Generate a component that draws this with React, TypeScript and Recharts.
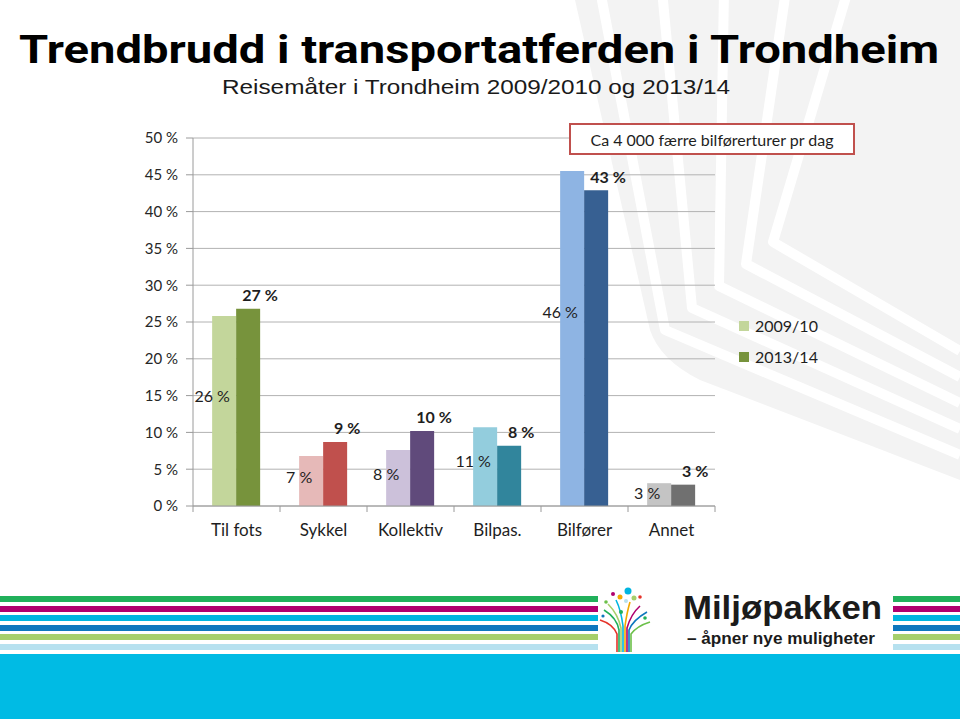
import { BarChart, Bar, XAxis, YAxis, CartesianGrid, Cell, LabelList } from "recharts";

const categories = ["Til fots", "Sykkel", "Kollektiv", "Bilpas.", "Bilfører", "Annet"];
const share2009 = [25.8, 6.8, 7.6, 10.7, 45.5, 3.1];
const share2013 = [26.8, 8.7, 10.2, 8.2, 42.9, 2.9];
const labels2009 = ["26 %", "7 %", "8 %", "11 %", "46 %", "3 %"];
const labels2013 = ["27 %", "9 %", "10 %", "8 %", "43 %", "3 %"];
const yTicks = [0, 5, 10, 15, 20, 25, 30, 35, 40, 45, 50];
const seriesNames = ["2009/10", "2013/14"];

const LIGHT = ["#c3d69b", "#e6b9b8", "#ccc1da", "#93cddd", "#8eb4e3", "#c4c4c4"];
const DARK = ["#77933c", "#c0504d", "#604a7b", "#31859c", "#376092", "#707070"];

const data = categories.map((name, i) => ({
  name,
  a: share2009[i],
  b: share2013[i],
  la: labels2009[i],
  lb: labels2013[i],
}));

const FONT = "Lato, 'Open Sans', sans-serif";
const PLOT_LEFT = 193;
const PLOT_RIGHT = 715;
const BAND = (PLOT_RIGHT - PLOT_LEFT) / categories.length;

const CatTick = (props: any) => {
  const { x, y, payload, index } = props;
  const axisY = y - 18;
  return (
    <g>
      <line x1={x - BAND / 2} x2={x - BAND / 2} y1={axisY} y2={axisY + 6} stroke="#9a9a9a" />
      {index === categories.length - 1 && (
        <line x1={x + BAND / 2} x2={x + BAND / 2} y1={axisY} y2={axisY + 6} stroke="#9a9a9a" />
      )}
      <text x={x} y={y} dy="0.71em" textAnchor="middle" fontSize={17} fill="#1e1e1e" fontFamily={FONT}>
        {payload.value}
      </text>
    </g>
  );
};

const LightLabel = (props: any) => {
  const { x, y, height, value } = props;
  return (
    <text x={x} y={y + height * 0.42} textAnchor="middle" dominantBaseline="central" fontSize={16} fill="#1e1e1e" fontFamily={FONT}>
      {value}
    </text>
  );
};

const DarkLabel = (props: any) => {
  const { x, y, width, value } = props;
  return (
    <text x={x + width} y={y - 14} textAnchor="middle" dominantBaseline="central" fontSize={16} fontWeight="bold" fill="#1e1e1e" fontFamily={FONT}>
      {value}
    </text>
  );
};

const Background = () => {
  const bands = [0, 1, 2, 3, 4];
  return (
    <svg width={960} height={719} style={{ position: "absolute", left: 0, top: 0 }}>
      <path d="M575 0 L650 330 Q660 360 700 380 L960 480 L960 0 Z" fill="#f3f3f3" />
      {bands.map((k) => {
        const topX = 600 + k * 62;
        const ax = 665 + k * 27;
        const ay = 330 - k * 22;
        const by = 455 - k * 26;
        return (
          <polyline
            key={k}
            points={`${topX},-10 ${ax},${ay} 960,${by}`}
            fill="none"
            stroke="#ffffff"
            strokeWidth={10}
            strokeLinejoin="round"
          />
        );
      })}
      {/* bottom stripes */}
      {[
        ["#21b05b", 596],
        ["#b0006e", 606],
        ["#00b5e0", 615],
        ["#0d77be", 625],
        ["#a6cf6b", 634],
        ["#b6e1ef", 644],
      ].map(([c, y]) => (
        <g key={String(y)}>
          <rect x={0} y={y as number} width={598} height={6} fill={c as string} />
          <rect x={893} y={y as number} width={67} height={6} fill={c as string} />
        </g>
      ))}
      <rect x={0} y={654} width={960} height={65} fill="#00bbe4" />
      {/* logo */}
      <g fill="none" strokeWidth={1.6}>
        <path d="M619 652 L619 630 Q617 618 604 610" stroke="#21b05b" />
        <path d="M621 652 L621 628 Q618 614 608 604" stroke="#a6cf6b" />
        <path d="M623 652 L623 626 Q621 610 616 600" stroke="#00b5e0" />
        <path d="M625 652 L625 626 Q627 612 630 602" stroke="#f2a900" />
        <path d="M627 652 L627 628 Q631 614 640 606" stroke="#b0006e" />
        <path d="M629 652 L629 630 Q633 620 647 612" stroke="#0d77be" />
        <path d="M617 652 L617 634 Q613 624 600 620" stroke="#e5332a" />
        <path d="M631 652 L631 634 Q637 626 650 622" stroke="#6cc04a" />
      </g>
      <circle cx={628} cy={591} r={3.5} fill="#00b5e0" />
      <circle cx={620} cy={597} r={2.5} fill="#f2a900" />
      <circle cx={613} cy={594} r={2} fill="#b0006e" />
      <circle cx={634} cy={598} r={2.5} fill="#a6cf6b" />
      <circle cx={626} cy={601} r={2} fill="#b6e1ef" />
      <circle cx={640} cy={597} r={1.8} fill="#e5332a" />
      <circle cx={606} cy={602} r={1.8} fill="#6cc04a" />
      <circle cx={645} cy={618} r={1.8} fill="#21b05b" />
      <circle cx={621} cy={612} r={2} fill="#21b05b" />
      <circle cx={603} cy={616} r={1.6} fill="#0d77be" />
      <text x={683} y={619} fontSize={33} fontWeight="bold" fill="#1b1b1b" fontFamily="'Liberation Sans Narrow', 'Liberation Sans', sans-serif" textLength={199} lengthAdjust="spacingAndGlyphs">
        Miljøpakken
      </text>
      <text x={687} y={644} fontSize={16} fontWeight="bold" fill="#1b1b1b" fontFamily="'Liberation Sans Narrow', 'Liberation Sans', sans-serif" textLength={188} lengthAdjust="spacingAndGlyphs">
        – åpner nye muligheter
      </text>
    </svg>
  );
};

export default function App() {
  return (
    <div style={{ position: "absolute", left: 0, top: 0, width: 960, height: 719, background: "#ffffff", overflow: "hidden" }}>
      <Background />
      <svg width={960} height={110} style={{ position: "absolute", left: 0, top: 0 }}>
        <text x={479} y={63} textAnchor="middle" fontSize={38} fontWeight="bold" fill="#000" fontFamily="Roboto, 'DejaVu Sans', sans-serif" textLength={920} lengthAdjust="spacingAndGlyphs">
          Trendbrudd i transportatferden i Trondheim
        </text>
        <text x={476} y={94} textAnchor="middle" fontSize={21} fill="#1a1a1a" fontFamily="'Liberation Sans Narrow', 'Liberation Sans', sans-serif" textLength={508} lengthAdjust="spacingAndGlyphs">
          Reisemåter  i Trondheim 2009/2010 og 2013/14
        </text>
      </svg>
      <div style={{ position: "absolute", left: 0, top: 0 }}>
        <BarChart width={960} height={560} data={data} margin={{ top: 138, right: 960 - PLOT_RIGHT, bottom: 14, left: PLOT_LEFT - 60 }} barCategoryGap="22%" barGap={0}>
          <CartesianGrid vertical={false} stroke="#b2b2b2" />
          <XAxis dataKey="name" height={40} tickSize={6} tickMargin={12} tickLine={false} axisLine={{ stroke: "#9a9a9a" }} tick={<CatTick />} interval={0} />
          <YAxis
            width={60}
            domain={[0, 50]}
            ticks={yTicks}
            tickFormatter={(v: number) => `${v} %`}
            tickSize={7}
            tickMargin={8}
            tickLine={{ stroke: "#9a9a9a" }}
            axisLine={{ stroke: "#9a9a9a" }}
            tick={{ fontSize: 15, fill: "#262626", fontFamily: FONT }}
          />
          <Bar dataKey="a" name={seriesNames[0]} fill={LIGHT[0]} isAnimationActive={false}>
            {data.map((d, i) => (
              <Cell key={d.name} fill={LIGHT[i]} />
            ))}
            <LabelList dataKey="la" content={<LightLabel />} />
          </Bar>
          <Bar dataKey="b" name={seriesNames[1]} fill={DARK[0]} isAnimationActive={false}>
            {data.map((d, i) => (
              <Cell key={d.name} fill={DARK[i]} />
            ))}
            <LabelList dataKey="lb" content={<DarkLabel />} />
          </Bar>
        </BarChart>
      </div>
      {/* annotation */}
      <div
        style={{
          position: "absolute",
          left: 569,
          top: 123,
          width: 282,
          height: 28,
          border: "2px solid #c0504d",
          background: "#ffffff",
          fontFamily: FONT,
          fontSize: 16,
          color: "#1e1e1e",
          display: "flex",
          alignItems: "center",
          justifyContent: "center",
          boxSizing: "content-box",
        }}
      >
        Ca 4 000 færre bilførerturer pr dag
      </div>
      {/* legend */}
      <div style={{ position: "absolute", left: 739, top: 310, fontFamily: FONT, fontSize: 16, color: "#1e1e1e" }}>
        {seriesNames.map((s, i) => (
          <div key={s} style={{ display: "flex", alignItems: "center", height: 31 }}>
            <span style={{ width: 10, height: 10, background: i === 0 ? LIGHT[0] : DARK[0], marginRight: 6, display: "inline-block" }} />
            {s}
          </div>
        ))}
      </div>
    </div>
  );
}
